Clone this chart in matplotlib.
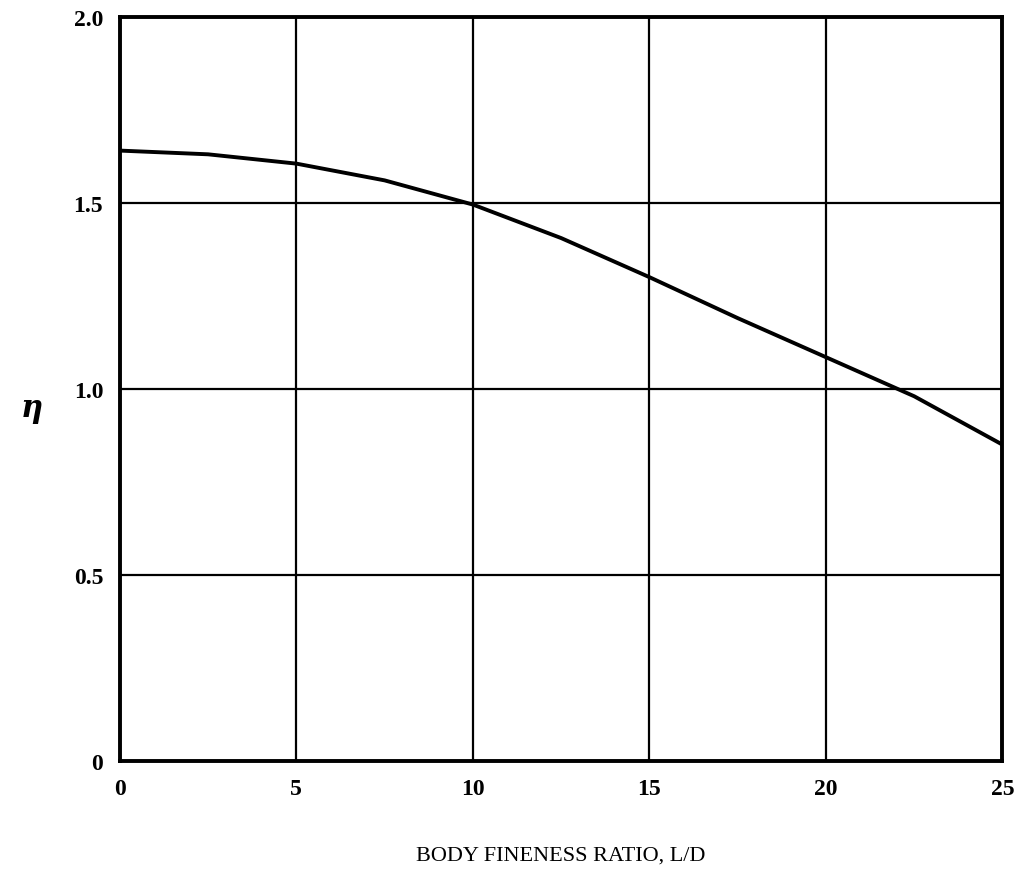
import matplotlib
matplotlib.use("Agg")
import matplotlib.pyplot as plt

ld = [0, 2.5, 5, 7.5, 10, 12.5, 15, 17.5, 20, 22.5, 25]
eta = [1.64, 1.63, 1.605, 1.56, 1.495, 1.405, 1.30, 1.19, 1.085, 0.98, 0.85]
xticks = [0, 5, 10, 15, 20, 25]
yticks = [0, 0.5, 1.0, 1.5, 2.0]
ytick_labels = ["0", "0.5", "1.0", "1.5", "2.0"]

fig = plt.figure(figsize=(10.24, 8.79), dpi=100)
ax = fig.add_axes([0.117, 0.133, 0.862, 0.847])
ax.plot(ld, eta, color="black", lw=2.8, solid_capstyle="round", solid_joinstyle="round")
ax.set_xlim(0, 25)
ax.set_ylim(0, 2.0)
ax.set_xticks(xticks)
ax.set_yticks(yticks)
ax.set_yticklabels(ytick_labels)
ax.grid(True, color="black", lw=1.6)
for s in ax.spines.values():
    s.set_linewidth(2.8)
ax.tick_params(length=0, pad=12, labelsize=17)
for lab in ax.get_xticklabels() + ax.get_yticklabels():
    lab.set_fontfamily("Liberation Serif")
    lab.set_fontweight("bold")
ax.set_xlabel("BODY FINENESS RATIO, L/D", fontfamily="Liberation Serif", fontsize=16, labelpad=34)
fig.text(0.031, 0.535, "η", fontsize=22, fontweight="bold",
         fontstyle="italic", fontfamily="DejaVu Serif", ha="center", va="center")
fig.savefig("out.png", dpi=100, facecolor="white")
